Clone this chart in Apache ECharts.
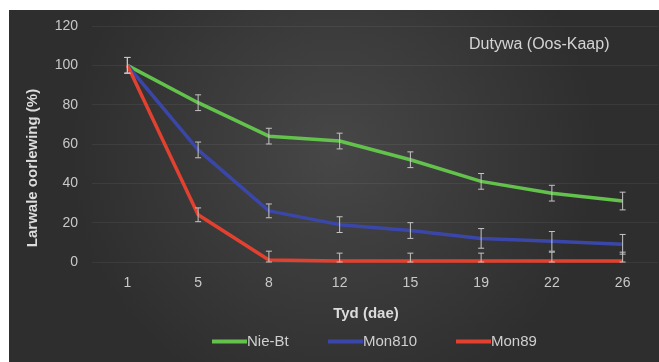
<!DOCTYPE html>
<html>
<head>
<meta charset="utf-8">
<script src="https://cdn.jsdelivr.net/npm/echarts@6/dist/echarts.min.js"></script>
<style>
  html, body { margin: 0; padding: 0; background: #ffffff; }
  #chart { width: 659px; height: 362px; }
</style>
</head>
<body>
<div id="chart"></div>
<script>
// Time points (days) and larval survival (%) per cultivar
const days = ['1', '5', '8', '12', '15', '19', '22', '26'];
const nieBt = [100, 81, 64, 61.5, 52, 41, 35, 31];
const mon810 = [100, 57, 26, 19, 16, 12, 10.5, 9];
const mon89 = [100, 24, 1, 0.5, 0.5, 0.5, 0.5, 0.5];
// Standard error for each point
const nieBtErr = [4, 4, 4, 4, 4, 4, 4, 4.5];
const mon810Err = [4, 4, 3.5, 4, 4, 5, 5, 5];
const mon89Err = [4, 3.5, 4.5, 4, 4, 4, 4.5, 4.5];
const yTicks = [0, 20, 40, 60, 80, 100, 120];

const seriesInfo = [
  { name: 'Nie-Bt', data: nieBt, err: nieBtErr, color: '#63c24b', legendLeft: 212 },
  { name: 'Mon810', data: mon810, err: mon810Err, color: '#3a47a8', legendLeft: 328 },
  { name: 'Mon89', data: mon89, err: mon89Err, color: '#e3412f', legendLeft: 456 }
];

const FONT = 'Liberation Sans, Arial, sans-serif';
const chart = echarts.init(document.getElementById('chart'));

function errorBars(info) {
  return {
    type: 'custom',
    name: info.name + '-err',
    z: 5,
    silent: true,
    data: info.data.map((v, i) => [i, Math.max(0, v - info.err[i]), v + info.err[i]]),
    renderItem: function (params, api) {
      const lo = api.coord([api.value(0), api.value(1)]);
      const hi = api.coord([api.value(0), api.value(2)]);
      const w = 3;
      const style = { stroke: '#c4c4c4', lineWidth: 1 };
      return {
        type: 'group',
        children: [
          { type: 'line', shape: { x1: lo[0], y1: lo[1], x2: hi[0], y2: hi[1] }, style: style },
          { type: 'line', shape: { x1: lo[0] - w, y1: lo[1], x2: lo[0] + w, y2: lo[1] }, style: style },
          { type: 'line', shape: { x1: hi[0] - w, y1: hi[1], x2: hi[0] + w, y2: hi[1] }, style: style }
        ]
      };
    }
  };
}

const series = [];
seriesInfo.forEach(info => {
  series.push({
    type: 'line',
    name: info.name,
    data: info.data,
    symbol: 'none',
    z: 3,
    lineStyle: { color: info.color, width: 3.5 },
    itemStyle: { color: info.color }
  });
});
seriesInfo.forEach(info => series.push(errorBars(info)));

// One legend block per series so each entry sits at its own spot along the bottom
const legends = seriesInfo.map(info => ({
  left: info.legendLeft,
  top: 334,
  padding: 0,
  itemWidth: 35,
  itemHeight: 4,
  itemGap: 0,
  data: [{ name: info.name, icon: 'rect' }],
  textStyle: { color: '#cfcfcf', fontSize: 15, fontFamily: FONT, padding: [0, 0, 0, -5] }
}));

chart.setOption({
  animation: false,
  textStyle: { fontFamily: FONT },
  graphic: [
    {
      type: 'rect',
      z: -10,
      silent: true,
      shape: { x: 9, y: 10, width: 650, height: 352 },
      style: {
        fill: new echarts.graphic.RadialGradient(0.5, 0.4, 0.75, [
          { offset: 0, color: '#474747' },
          { offset: 1, color: '#2e2e2e' }
        ])
      }
    },
    {
      type: 'text',
      left: 469,
      top: 37,
      z: 10,
      style: { text: 'Dutywa (Oos-Kaap)', fill: '#d4d4d4', font: '16px ' + FONT }
    },
    {
      type: 'text',
      x: 33,
      y: 168,
      rotation: Math.PI / 2,
      z: 10,
      style: {
        text: 'Larwale oorlewing (%)', fill: '#dcdcdc', font: 'bold 15px ' + FONT,
        align: 'center', verticalAlign: 'middle'
      }
    },
    {
      type: 'text',
      x: 366,
      y: 314,
      z: 10,
      style: {
        text: 'Tyd (dae)', fill: '#dcdcdc', font: 'bold 15px ' + FONT,
        align: 'center', verticalAlign: 'middle'
      }
    }
  ],
  grid: { left: 92, right: 1, top: 26, bottom: 100, containLabel: false },
  legend: legends,
  xAxis: {
    type: 'category',
    data: days,
    boundaryGap: true,
    axisLine: { show: false },
    axisTick: { show: false },
    axisLabel: { color: '#c8c8c8', fontSize: 14, margin: 14 }
  },
  yAxis: {
    type: 'value',
    min: 0,
    max: 120,
    interval: 20,
    axisLine: { show: false },
    axisTick: { show: false },
    axisLabel: {
      color: '#c8c8c8', fontSize: 14, margin: 14,
      formatter: v => (yTicks.indexOf(v) >= 0 ? String(v) : '')
    },
    splitLine: { lineStyle: { color: 'rgba(255,255,255,0.06)', width: 1 } }
  },
  series: series
});
</script>
</body>
</html>
